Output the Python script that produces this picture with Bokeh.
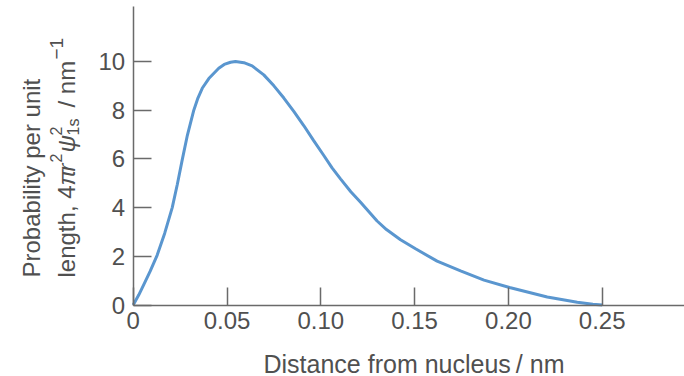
from math import pi
from bokeh.plotting import figure
from bokeh.models import Label, FixedTicker, Range1d
from bokeh.embed import file_html
from bokeh.resources import INLINE

# Data
distance_nm = [0, 0.003, 0.0057, 0.009, 0.0128, 0.0168, 0.0208, 0.0235, 0.0261, 0.0289,
               0.0323, 0.0345, 0.0368, 0.0403, 0.0456, 0.0485, 0.0519, 0.0545, 0.059, 0.0634,
               0.0696, 0.075, 0.0803, 0.0856, 0.0909, 0.0962, 0.1016, 0.106, 0.1105, 0.116,
               0.1212, 0.126, 0.130, 0.135, 0.1425, 0.1505, 0.162, 0.1745, 0.187, 0.2006,
               0.2207, 0.2367, 0.245, 0.25]
probability = [0, 0.42, 0.85, 1.38, 2.05, 2.95, 4.0, 4.95, 5.95, 6.98,
               8.0, 8.5, 8.9, 9.3, 9.72, 9.88, 9.97, 10.0, 9.95, 9.82,
               9.45, 9.0, 8.5, 7.95, 7.37, 6.75, 6.14, 5.63, 5.18, 4.65,
               4.22, 3.8, 3.45, 3.1, 2.68, 2.31, 1.8, 1.4, 1.02, 0.72,
               0.33, 0.11, 0.03, 0.0]
x_ticks = [0, 0.05, 0.10, 0.15, 0.20, 0.25]
x_tick_labels = ["0", "0.05", "0.10", "0.15", "0.20", "0.25"]
y_ticks = [0, 2, 4, 6, 8, 10]

FONT = "Liberation Sans"
TEXT = "#505050"
AXIS = "#6a6a6a"
W, H = 684, 376

p = figure(width=W, height=H, output_backend="svg", toolbar_location=None,
           x_range=Range1d(-0.07074, 0.29387), y_range=Range1d(-2.936, 12.505),
           min_border=0, min_border_left=0, min_border_right=0,
           min_border_top=0, min_border_bottom=0)
p.line(distance_nm, probability, line_color="#5a96cf", line_width=3)
p.grid.visible = False
p.outline_line_color = None

for ax in (p.xaxis[0], p.yaxis[0]):
    ax.fixed_location = 0
    ax.axis_line_color = AXIS
    ax.axis_line_width = 1.5
    ax.major_tick_in = 18
    ax.major_tick_out = 0
    ax.major_tick_line_color = AXIS
    ax.major_tick_line_width = 1.5
    ax.minor_tick_line_color = None
    ax.major_label_text_font = FONT
    ax.major_label_text_font_size = "24px"
    ax.major_label_text_color = TEXT

p.xaxis.ticker = FixedTicker(ticks=x_ticks)
p.xaxis.major_label_overrides = {t: l for t, l in zip(x_ticks, x_tick_labels)}
p.xaxis.major_label_standoff = 7
p.xaxis.bounds = (0, 0.29387)
p.yaxis.ticker = FixedTicker(ticks=y_ticks)
p.yaxis.major_label_standoff = 8
p.yaxis.bounds = (0, 12.25)

def lab(text, x, y, size="24px", style="normal", angle=pi/2, align="left"):
    # x, y given in canvas pixels from the top-left corner
    p.add_layout(Label(x=x, y=H - y, x_units="screen", y_units="screen", text=text,
                       angle=angle, text_align=align, text_baseline="alphabetic",
                       text_font=FONT, text_font_size=size, text_font_style=style,
                       text_color=TEXT))

# x-axis title
lab("Distance from nucleus\u2009/ nm", 263, 363, size="25px", angle=0)

# y-axis title, line 1
lab("Probability per unit", 31, 277)

# y-axis title, line 2 built from pieces
b = 66     # baseline x
y0 = 277   # start (bottom)
lab("length, 4", b, y0)
lab("\u03c0", b, y0 - 92, style="italic")
lab("r", b, y0 - 106, style="italic")
lab("2", b - 11, y0 - 115, size="16px")
lab("\u03c8", b, y0 - 125, style="italic")
lab("2", b - 11, y0 - 142, size="16px")
lab("1s", b + 7, y0 - 142, size="16px")
lab("/ nm", b, y0 - 170)
lab("\u22121", b - 10, y0 - 218, size="19px")

open("out.html", "w").write(file_html(p, INLINE))
